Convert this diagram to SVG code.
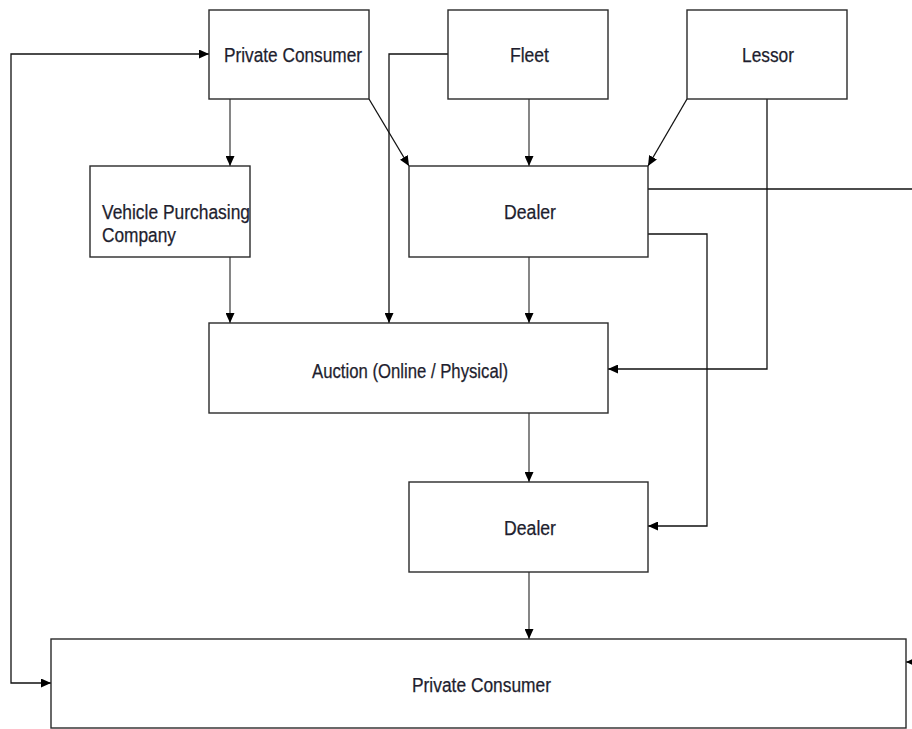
<svg xmlns="http://www.w3.org/2000/svg" width="912" height="729" viewBox="0 0 912 729">
<style>
.box{fill:#fff;stroke:#2a2a2a;stroke-width:1.4}
.lbl{font-family:"Liberation Sans",Arial,sans-serif;font-size:20px;fill:#1e1e2e;stroke:#1e1e2e;stroke-width:0.25}
.ln{fill:none;stroke:#111;stroke-width:1.3}
.lg{fill:none;stroke:#444;stroke-width:1.3}
</style>
<defs>
<marker id="ah" markerUnits="userSpaceOnUse" markerWidth="11" markerHeight="9" refX="10" refY="4.5" orient="auto">
<path d="M0,0 L10,4.5 L0,9 z" fill="#000"/>
</marker>
<marker id="as" markerUnits="userSpaceOnUse" markerWidth="11" markerHeight="9" refX="0" refY="4.5" orient="auto">
<path d="M10,0 L0,4.5 L10,9 z" fill="#000"/>
</marker>
</defs>
<rect width="912" height="729" fill="#fff"/>
<g id="connectors">
<path class="ln" d="M209,54 H11 V683 H51" marker-start="url(#as)" marker-end="url(#ah)"/>
<path class="lg" d="M230,99 V166" marker-end="url(#ah)"/>
<path class="ln" d="M369,99 L409,166" marker-end="url(#ah)"/>
<path class="ln" d="M448,54 H389 V323" marker-end="url(#ah)"/>
<path class="lg" d="M529,99 V166" marker-end="url(#ah)"/>
<path class="ln" d="M687,99 L648,166" marker-end="url(#ah)"/>
<path class="ln" d="M767,99 V369 H608" marker-end="url(#ah)"/>
<path class="ln" d="M648,189 H914"/>
<path class="ln" d="M918,662 H906" marker-end="url(#ah)"/>
<path class="ln" d="M648,234 H707 V526 H648" marker-end="url(#ah)"/>
<path class="lg" d="M230,257 V323" marker-end="url(#ah)"/>
<path class="lg" d="M529,257 V323" marker-end="url(#ah)"/>
<path class="lg" d="M529,413 V482" marker-end="url(#ah)"/>
<path class="lg" d="M529,572 V639" marker-end="url(#ah)"/>
</g>
<g id="pc-top"><rect class="box" x="209" y="10" width="160" height="89"/><text class="lbl" x="224" y="62" textLength="138" lengthAdjust="spacingAndGlyphs">Private Consumer</text></g>
<g id="fleet"><rect class="box" x="448" y="10" width="160" height="89"/><text class="lbl" x="510" y="62" textLength="39" lengthAdjust="spacingAndGlyphs">Fleet</text></g>
<g id="lessor"><rect class="box" x="687" y="10" width="160" height="89"/><text class="lbl" x="742" y="62" textLength="52" lengthAdjust="spacingAndGlyphs">Lessor</text></g>
<g id="vpc"><rect class="box" x="90" y="166" width="160" height="91"/><text class="lbl" x="102" y="219" textLength="148" lengthAdjust="spacingAndGlyphs">Vehicle Purchasing</text><text class="lbl" x="102" y="242" textLength="74" lengthAdjust="spacingAndGlyphs">Company</text></g>
<g id="dealer-top"><rect class="box" x="409" y="166" width="239" height="91"/><text class="lbl" x="504" y="219" textLength="52" lengthAdjust="spacingAndGlyphs">Dealer</text></g>
<g id="auction"><rect class="box" x="209" y="323" width="399" height="90"/><text class="lbl" x="312" y="378" textLength="196" lengthAdjust="spacingAndGlyphs">Auction (Online / Physical)</text></g>
<g id="dealer-bottom"><rect class="box" x="409" y="482" width="239" height="90"/><text class="lbl" x="504" y="535" textLength="52" lengthAdjust="spacingAndGlyphs">Dealer</text></g>
<g id="pc-bottom"><rect class="box" x="51" y="639" width="855" height="89"/><text class="lbl" x="412" y="692" textLength="139" lengthAdjust="spacingAndGlyphs">Private Consumer</text></g>
</svg>
